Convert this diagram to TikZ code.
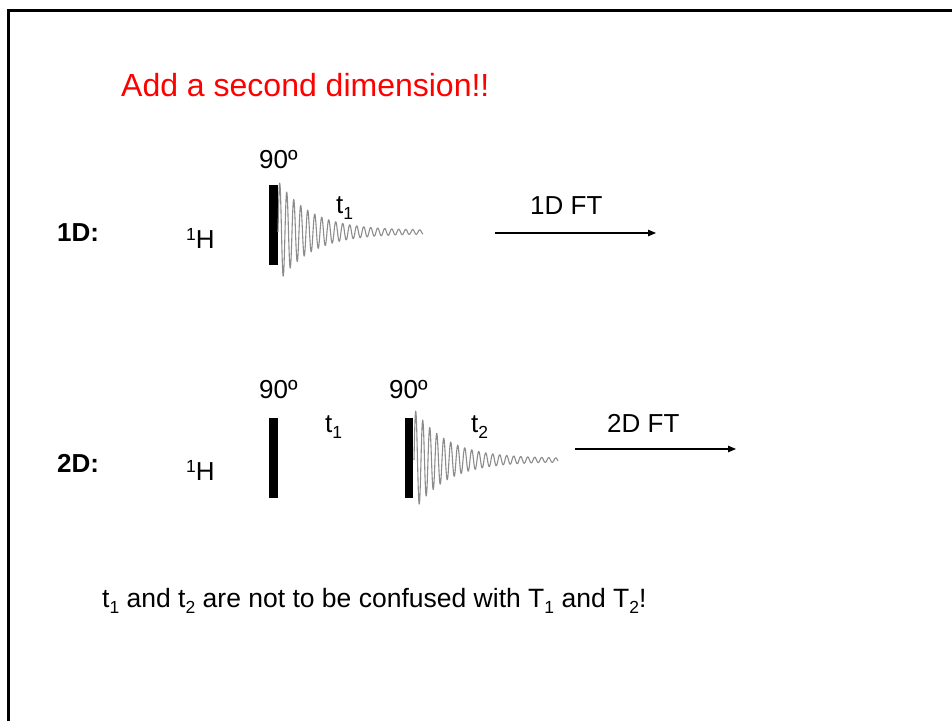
\documentclass[tikz,border=0pt]{standalone}
\usepackage{fontspec}
\setmainfont{Liberation Sans}
\usetikzlibrary{arrows.meta,positioning}
\newcommand{\slidefont}{\fontsize{26}{31}\selectfont}
\newcommand{\lowidx}[1]{\raisebox{-6pt}{\fontsize{17.5}{20}\selectfont #1}}
\newcommand{\upidx}[1]{\raisebox{8pt}{\fontsize{17.5}{20}\selectfont #1}}

\begin{document}
\begin{tikzpicture}[
x=1pt, y=-1pt,
txt/.style={anchor=base west, inner sep=0pt, font=\slidefont},
head/.style={anchor=base west, inner sep=0pt, font=\fontsize{32}{38}\selectfont, text=red},
dimlab/.style={anchor=base west, inner sep=0pt, font=\slidefont\bfseries},
pulse/.style={fill=black, inner sep=0pt, minimum width=8.5pt, minimum height=80pt},
fid/.style={draw=black!45, line width=1.1pt, line join=round},
arrow/.style={-{Triangle[length=8pt, width=6.5pt]}, line width=1.1pt},
frame/.style={line width=2.6pt}
]
\useasboundingbox (0,0) rectangle (952,721);
\draw[frame] (8.2,721) -- (8.2,10.5) -- (952,10.5);

\node[head] (title) at (121,96) {Add a second dimension!!};

% 1D experiment
\node[dimlab] (lab1d) at (57,241) {1D:};
\node[txt] (h1d) at (186,248) {\upidx{1}H};
\node[pulse] (p1d) at (273.3,225) {};
\node[txt] (deg1d) at (259,168) {90º};
\draw[fid] plot[domain=0:145, samples=700] ({278+\x}, {232-(50*exp(-\x/33)+1.5)*sin(\x/7*360)});
\node[txt] (t1d) at (336,213) {t\lowidx{1}};
\coordinate (ft1s) at (495,233);
\coordinate (ft1e) at (656,233);
\node[txt] (ft1) at (530,214) {1D FT};
\draw[arrow] (ft1s) -- (ft1e);

% 2D experiment
\node[dimlab] (lab2d) at (57,472) {2D:};
\node[txt] (h2d) at (186,480) {\upidx{1}H};
\node[pulse] (p2da) at (273.5,457.5) {};
\node[pulse] (p2db) at (409,457.5) {};
\node[txt] (deg2da) at (259,398) {90º};
\node[txt] (deg2db) at (389,398) {90º};
\node[txt] (t2da) at (325,432) {t\lowidx{1}};
\draw[fid] plot[domain=0:144, samples=700] ({414+\x}, {460-(50*exp(-\x/33)+1.5)*sin(\x/7*360)});
\node[txt] (t2db) at (471,432) {t\lowidx{2}};
\coordinate (ft2s) at (575,449);
\coordinate (ft2e) at (736,449);
\node[txt] (ft2) at (607,432) {2D FT};
\draw[arrow] (ft2s) -- (ft2e);

\node[txt, font=\fontsize{26.5}{31}\selectfont] (note) at (102,607) {t\lowidx{1} and t\lowidx{2} are not to be confused with T\lowidx{1} and T\lowidx{2}!};
\end{tikzpicture}
\end{document}
